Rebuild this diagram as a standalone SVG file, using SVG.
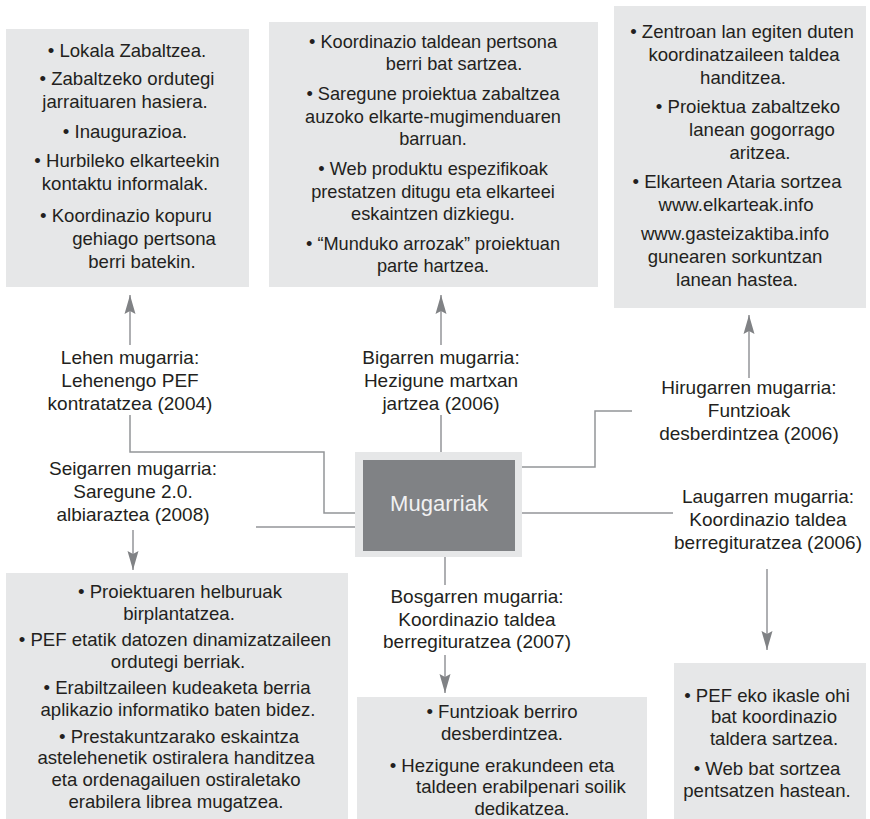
<svg xmlns="http://www.w3.org/2000/svg" width="870" height="819" viewBox="0 0 870 819">
<style>
.box{fill:#e6e7e8}
.t{font-family:"Liberation Sans",Arial,sans-serif;font-size:18.6px;fill:#231f20;text-anchor:middle}
.m .t{font-size:18.2px}
.l .t{font-size:19px}
.c{fill:none;stroke:#939598;stroke-width:1.5}
.a{fill:none;stroke:#939598;stroke-width:1.5;marker-end:url(#ah)}
</style>
<defs>
<marker id="ah" markerUnits="userSpaceOnUse" markerWidth="22" markerHeight="14" refX="19" refY="6" orient="auto">
<path d="M0,0.5 L19,6 L0,11.5 L3,6 Z" fill="#808285"/>
</marker>
</defs>
<rect width="870" height="819" fill="#fff"/>
<g id="connectors">
<polyline class="c" points="130,415 130,452 324,452 324,513 355,513"/>
<line class="c" x1="441" y1="415" x2="441" y2="452"/>
<polyline class="c" points="522,467 595,467 595,411 632,411"/>
<line class="c" x1="522" y1="513" x2="673" y2="513"/>
<line class="c" x1="445" y1="557" x2="445" y2="585"/>
<line class="c" x1="256" y1="527" x2="355" y2="527"/>
<line class="a" x1="130" y1="345" x2="130" y2="295"/>
<line class="a" x1="441" y1="345" x2="441" y2="295"/>
<line class="a" x1="749" y1="378" x2="749" y2="315"/>
<line class="a" x1="767" y1="569" x2="767" y2="650"/>
<line class="a" x1="445" y1="655" x2="445" y2="693"/>
<line class="a" x1="133" y1="530" x2="133" y2="570"/>
</g>
<g id="center">
<rect x="355" y="452" width="167" height="105" fill="#e6e7e8"/>
<rect x="363" y="460" width="152" height="91" fill="#808285"/>
<text x="439" y="511" style="font-family:'Liberation Sans',Arial,sans-serif;font-size:22px;fill:#f1f1f2;text-anchor:middle">Mugarriak</text>
</g>
<g id="box1">
<rect class="box" x="6" y="29" width="243" height="258"/>
<text class="t" x="127" y="57">• Lokala Zabaltzea.</text>
<text class="t" x="127" y="85">• Zabaltzeko ordutegi</text>
<text class="t" x="125" y="108">jarraituaren hasiera.</text>
<text class="t" x="125" y="138">• Inaugurazioa.</text>
<text class="t" x="127" y="167">• Hurbileko elkarteekin</text>
<text class="t" x="125" y="190">kontaktu informalak.</text>
<text class="t" x="126" y="222">• Koordinazio kopuru</text>
<text class="t" x="144" y="245">gehiago pertsona</text>
<text class="t" x="142" y="268">berri batekin.</text>
</g>
<g id="box2" class="m">
<rect class="box" x="269" y="22" width="329" height="265"/>
<text class="t" x="433" y="48">• Koordinazio taldean pertsona</text>
<text class="t" x="454" y="70">berri bat sartzea.</text>
<text class="t" x="433" y="100">• Saregune proiektua zabaltzea</text>
<text class="t" x="433" y="123">auzoko elkarte-mugimenduaren</text>
<text class="t" x="433" y="145">barruan.</text>
<text class="t" x="433" y="175">• Web produktu espezifikoak</text>
<text class="t" x="433" y="198">prestatzen ditugu eta elkarteei</text>
<text class="t" x="433" y="220">eskaintzen dizkiegu.</text>
<text class="t" x="433" y="250">• “Munduko arrozak” proiektuan</text>
<text class="t" x="433" y="272">parte hartzea.</text>
</g>
<g id="box3">
<rect class="box" x="614" y="6" width="252" height="302"/>
<text class="t" x="742" y="38">• Zentroan lan egiten duten</text>
<text class="t" x="744" y="61">koordinatzaileen taldea</text>
<text class="t" x="743" y="84">handitzea.</text>
<text class="t" x="748" y="113">• Proiektua zabaltzeko</text>
<text class="t" x="762" y="136">lanean gogorrago</text>
<text class="t" x="760" y="159">aritzea.</text>
<text class="t" x="737" y="188">• Elkarteen Ataria sortzea</text>
<text class="t" x="736" y="211">www.elkarteak.info</text>
<text class="t" x="735" y="240">www.gasteizaktiba.info</text>
<text class="t" x="735" y="263">gunearen sorkuntzan</text>
<text class="t" x="737" y="286">lanean hastea.</text>
</g>
<g id="label1" class="l">
<text class="t" x="130" y="364">Lehen mugarria:</text>
<text class="t" x="130" y="387">Lehenengo PEF</text>
<text class="t" x="130" y="410">kontratatzea (2004)</text>
</g>
<g id="label2" class="l">
<text class="t" x="441" y="364">Bigarren mugarria:</text>
<text class="t" x="441" y="387">Hezigune martxan</text>
<text class="t" x="441" y="410">jartzea (2006)</text>
</g>
<g id="label3" class="l">
<text class="t" x="749" y="394">Hirugarren mugarria:</text>
<text class="t" x="749" y="417">Funtzioak</text>
<text class="t" x="749" y="440">desberdintzea (2006)</text>
</g>
<g id="label4" class="l">
<text class="t" x="768" y="503">Laugarren mugarria:</text>
<text class="t" x="768" y="526">Koordinazio taldea</text>
<text class="t" x="768" y="549">berregituratzea (2006)</text>
</g>
<g id="label5" class="l">
<text class="t" x="477" y="603">Bosgarren mugarria:</text>
<text class="t" x="477" y="626">Koordinazio taldea</text>
<text class="t" x="477" y="648">berregituratzea (2007)</text>
</g>
<g id="label6" class="l">
<text class="t" x="133" y="475">Seigarren mugarria:</text>
<text class="t" x="133" y="498">Saregune 2.0.</text>
<text class="t" x="133" y="521">albiaraztea (2008)</text>
</g>
<g id="box4">
<rect class="box" x="674" y="663" width="192" height="156"/>
<text class="t" x="767" y="702">• PEF eko ikasle ohi</text>
<text class="t" x="774" y="723">bat koordinazio</text>
<text class="t" x="774" y="745">taldera sartzea.</text>
<text class="t" x="767" y="775">• Web bat sortzea</text>
<text class="t" x="767" y="797">pentsatzen hastean.</text>
</g>
<g id="box5">
<rect class="box" x="357" y="697" width="290" height="122"/>
<text class="t" x="502" y="718">• Funtzioak berriro</text>
<text class="t" x="502" y="740">desberdintzea.</text>
<text class="t" x="502" y="772">• Hezigune erakundeen eta</text>
<text class="t" x="521" y="793">taldeen erabilpenari soilik</text>
<text class="t" x="522" y="815">dedikatzea.</text>
</g>
<g id="box6">
<rect class="box" x="6" y="573" width="342" height="246"/>
<text class="t" x="180" y="598">• Proiektuaren helburuak</text>
<text class="t" x="179" y="620">birplantatzea.</text>
<text class="t" x="175" y="646">• PEF etatik datozen dinamizatzaileen</text>
<text class="t" x="178" y="668">ordutegi berriak.</text>
<text class="t" x="177" y="694">• Erabiltzaileen kudeaketa berria</text>
<text class="t" x="178" y="716">aplikazio informatiko baten bidez.</text>
<text class="t" x="179" y="743">• Prestakuntzarako eskaintza</text>
<text class="t" x="176" y="764">astelehenetik ostiralera handitzea</text>
<text class="t" x="176" y="786">eta ordenagailuen ostiraletako</text>
<text class="t" x="176" y="808">erabilera librea mugatzea.</text>
</g>
</svg>
